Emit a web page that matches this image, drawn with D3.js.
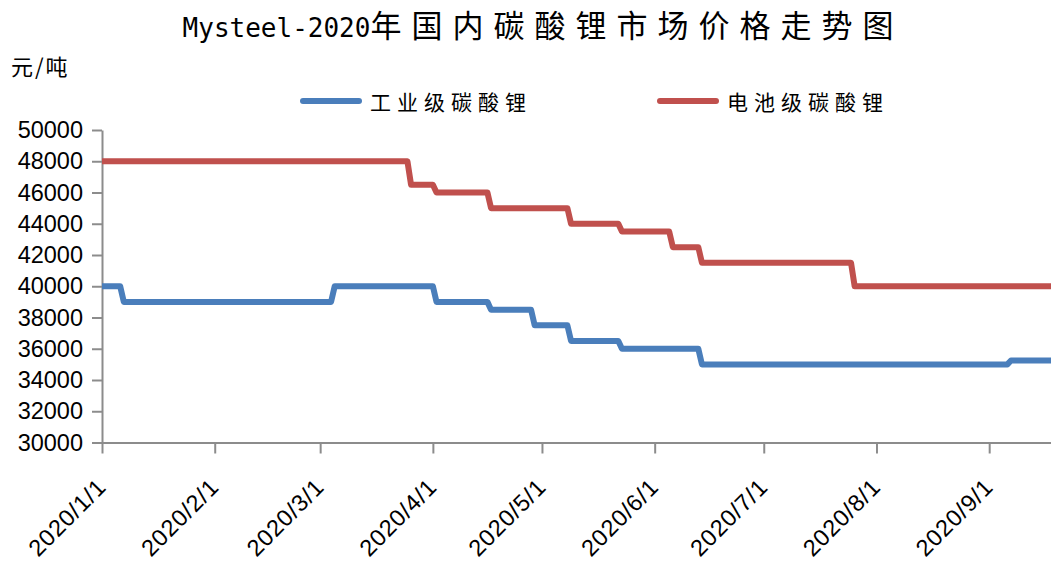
<!DOCTYPE html>
<html>
<head>
<meta charset="utf-8">
<script src="https://cdn.jsdelivr.net/npm/d3@7"></script>
<style>
  body { margin: 0; background: #fff; }
  svg { display: block; }
</style>
</head>
<body>
<svg id="chart"></svg>
<script>
// 数据（从图中读取的价格变动点）
var industrialDates = ["2020/1/1","2020/1/6","2020/1/7","2020/3/4","2020/3/5","2020/4/1","2020/4/2",
  "2020/4/16","2020/4/17","2020/4/28","2020/4/29","2020/5/8","2020/5/9","2020/5/22","2020/5/23",
  "2020/6/13","2020/6/14","2020/9/6","2020/9/7","2020/9/18"];
var industrialPrices = [40000,40000,39000,39000,40000,40000,39000,39000,38500,38500,37500,
  37500,36500,36500,36000,36000,35000,35000,35250,35250];

var batteryDates = ["2020/1/1","2020/3/25","2020/3/26","2020/4/1","2020/4/2","2020/4/16","2020/4/17",
  "2020/5/8","2020/5/9","2020/5/22","2020/5/23","2020/6/5","2020/6/6","2020/6/13","2020/6/14",
  "2020/7/25","2020/7/26","2020/9/18"];
var batteryPrices = [48000,48000,46500,46500,46000,46000,45000,45000,44000,44000,43500,43500,
  42500,42500,41500,41500,40000,40000];

var seriesNames = ["工业级碳酸锂", "电池级碳酸锂"];
var seriesColors = ["#4a7ebb", "#c0504d"];

var xTickLabels = ["2020/1/1","2020/2/1","2020/3/1","2020/4/1","2020/5/1","2020/6/1","2020/7/1","2020/8/1","2020/9/1"];
var yTicks = [30000,32000,34000,36000,38000,40000,42000,44000,46000,48000,50000];
var xDomain = ["2020/1/1", "2020/9/18"];

// 表示サイズ
var size = { width: 1051, height: 561 };
var plot = { left: 102, right: 1051, top: 130, bottom: 442.5 };

var parseDate = d3.timeParse("%Y/%m/%d");
var fmt = d3.timeFormat("%Y/%-m/%-d");

var svg = d3.select("#chart")
  .attr("width", size.width)
  .attr("height", size.height);

svg.append("rect")
  .attr("width", size.width)
  .attr("height", size.height)
  .attr("fill", "#fff");

var x = d3.scaleTime()
  .domain(xDomain.map(parseDate))
  .range([plot.left, plot.right]);

var y = d3.scaleLinear()
  .domain([30000, 50000])
  .range([plot.bottom, plot.top]);

// title
var title = svg.append("text")
  .attr("x", 543)
  .attr("y", 37)
  .attr("text-anchor", "middle")
  .attr("fill", "#000");
title.append("tspan")
  .attr("font-family", "'DejaVu Sans Mono', 'Liberation Mono', monospace")
  .attr("font-size", 26)
  .text("Mysteel-2020");
title.append("tspan")
  .attr("font-family", "'Noto Sans CJK SC', sans-serif")
  .attr("font-size", 31)
  .attr("letter-spacing", 10)
  .text("年国内碳酸锂市场价格走势图");

// unit
svg.append("text")
  .attr("x", 11)
  .attr("y", 75)
  .attr("font-family", "'Noto Sans CJK SC', sans-serif")
  .attr("font-size", 22)
  .attr("letter-spacing", 2)
  .attr("fill", "#000")
  .text("元/吨");

// legend
var legendX = [303, 660];
seriesNames.forEach(function(name, i){
  var g = svg.append("g").attr("transform", "translate(" + legendX[i] + ",101)");
  g.append("line")
    .attr("x1", 0).attr("x2", 56)
    .attr("stroke", seriesColors[i])
    .attr("stroke-width", 6)
    .attr("stroke-linecap", "round");
  g.append("text")
    .attr("x", 67)
    .attr("y", 9)
    .attr("font-family", "'Noto Sans CJK SC', sans-serif")
    .attr("font-size", 21)
    .attr("letter-spacing", 6)
    .attr("fill", "#000")
    .text(name);
});

// y axis
var yAxis = d3.axisLeft(y)
  .tickValues(yTicks)
  .tickFormat(d3.format("d"))
  .tickSize(10)
  .tickSizeOuter(0)
  .tickPadding(9);

var gy = svg.append("g")
  .attr("transform", "translate(" + plot.left + ",0)")
  .call(yAxis);
gy.select(".domain").attr("stroke", "#8c8c8c").attr("stroke-width", 2);
gy.selectAll(".tick line").attr("stroke", "#8c8c8c").attr("stroke-width", 2);
gy.selectAll(".tick text")
  .attr("font-family", "'Liberation Sans', Arial, sans-serif")
  .attr("font-size", 23.5)
  .attr("fill", "#000");

// x axis
var xAxis = d3.axisBottom(x)
  .tickValues(xTickLabels.map(parseDate))
  .tickFormat(fmt)
  .tickSize(11)
  .tickSizeOuter(0);

var gx = svg.append("g")
  .attr("transform", "translate(0," + plot.bottom + ")")
  .call(xAxis);
gx.select(".domain").attr("stroke", "#8c8c8c").attr("stroke-width", 2);
gx.selectAll(".tick line").attr("stroke", "#8c8c8c").attr("stroke-width", 2);
gx.selectAll(".tick text")
  .attr("x", 0)
  .attr("y", 0)
  .attr("dy", 0)
  .attr("text-anchor", "end")
  .attr("transform", "translate(5,46) rotate(-45)")
  .attr("font-family", "'Liberation Sans', Arial, sans-serif")
  .attr("font-size", 23.5)
  .attr("letter-spacing", 0.8)
  .attr("fill", "#000");

// lines
var line = d3.line()
  .x(function(d){ return x(d.date); })
  .y(function(d){ return y(d.value); });

var series = [
  industrialDates.map(function(d, i){ return { date: parseDate(d), value: industrialPrices[i] }; }),
  batteryDates.map(function(d, i){ return { date: parseDate(d), value: batteryPrices[i] }; })
];

series.forEach(function(data, i){
  svg.append("path")
    .datum(data)
    .attr("d", line)
    .attr("fill", "none")
    .attr("stroke", seriesColors[i])
    .attr("stroke-width", 6)
    .attr("stroke-linejoin", "round");
});
</script>
</body>
</html>
